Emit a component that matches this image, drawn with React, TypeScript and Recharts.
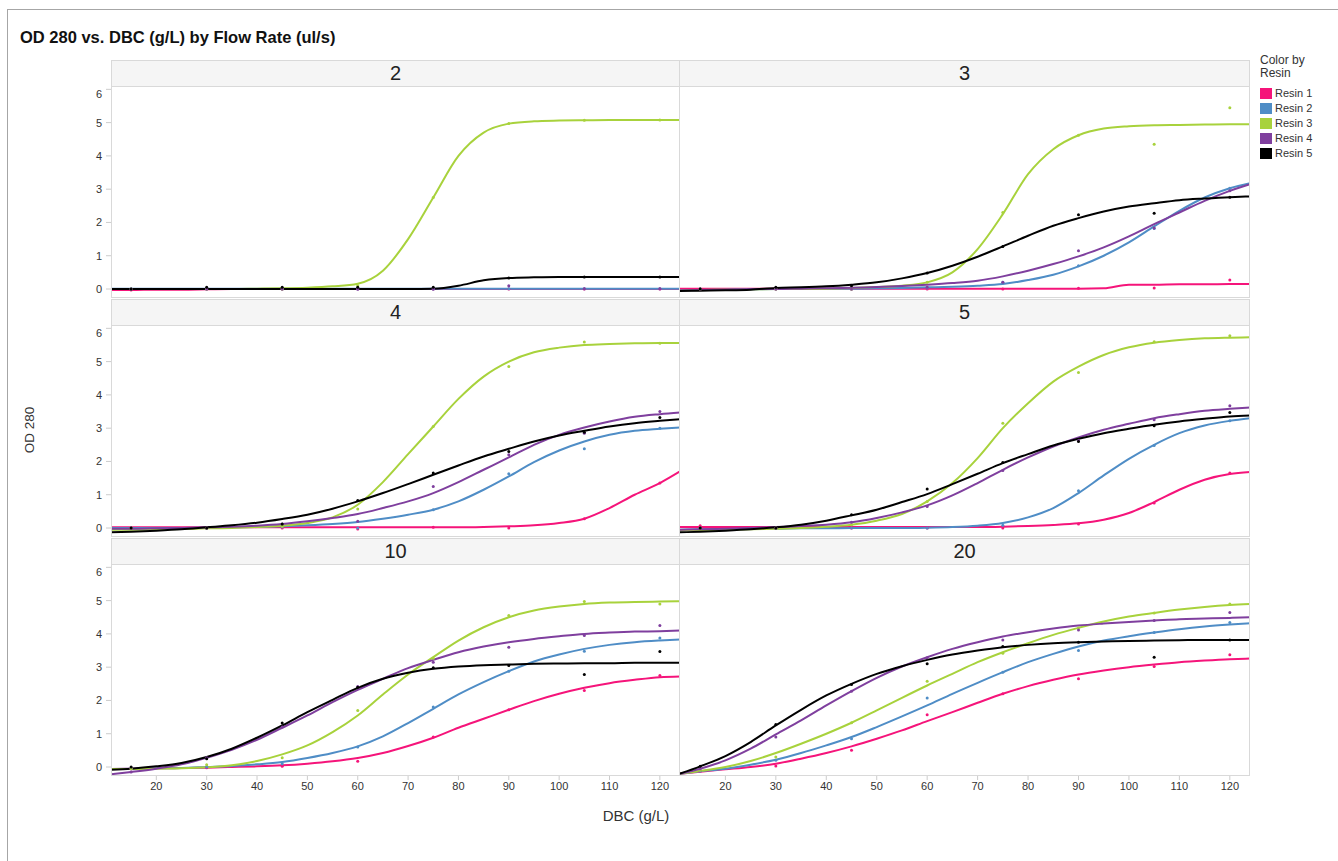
import { ComposedChart, Line, Scatter, XAxis, YAxis } from "recharts";

const RESINS = ["Resin 1", "Resin 2", "Resin 3", "Resin 4", "Resin 5"];
const COLORS = ["#f5147a", "#4f8dc6", "#a8d23c", "#7f3f9e", "#000000"];
const FLOW_RATES = ["2", "3", "4", "5", "10", "20"];

const FIT_X = [11, 15, 20, 25, 30, 35, 40, 45, 50, 55, 60, 65, 70, 75, 80, 85, 90, 95, 100, 105, 110, 115, 120, 124];
// measured DBC values
const SAMPLE_X = [15, 30, 45, 60, 75, 90, 105, 120];
const X_TICKS = [20, 30, 40, 50, 60, 70, 80, 90, 100, 110, 120];
const Y_TICKS = [0, 1, 2, 3, 4, 5, 6];

// fitted curves, one array per resin (null = no fit drawn)
const FIT_2 = [
  [-0.03, -0.03, -0.02, -0.02, -0.01, 0, 0, 0, 0, 0, 0, 0, 0, 0, 0, 0, 0, 0, 0, 0, 0, 0, 0, 0],
  [0.01, 0.01, 0.01, 0.01, 0.01, 0.01, 0.01, 0.01, 0.01, 0.01, 0.01, 0.01, 0.01, 0.01, 0.01, 0.01, 0.01, 0.01, 0.01, 0.01, 0.01, 0.01, 0.01, 0.01],
  [0, 0, 0, 0, 0, 0, 0.01, 0.02, 0.04, 0.08, 0.16, 0.55, 1.5, 2.75, 4.0, 4.7, 4.97, 5.04, 5.06, 5.07, 5.08, 5.08, 5.08, 5.08],
  null,
  [0, 0, 0, 0, 0, 0, 0, 0, 0, 0, 0, 0, 0, 0.01, 0.1, 0.26, 0.33, 0.35, 0.36, 0.36, 0.36, 0.36, 0.36, 0.36],
];
const FIT_3 = [
  [0.01, 0.01, 0.01, 0.01, 0.01, 0.01, 0.01, 0.01, 0.01, 0.01, 0.01, 0.01, 0.01, 0.01, 0.01, 0.01, 0.01, 0.02, 0.13, 0.13, 0.14, 0.14, 0.15, 0.15],
  [-0.04, -0.03, -0.02, -0.01, 0, 0, 0.01, 0.01, 0.02, 0.03, 0.05, 0.07, 0.1, 0.15, 0.27, 0.43, 0.68, 1.0, 1.4, 1.88, 2.35, 2.75, 3.03, 3.18],
  [-0.04, -0.03, -0.02, -0.01, 0, 0, 0.01, 0.03, 0.06, 0.1, 0.2, 0.5, 1.2, 2.25, 3.45, 4.2, 4.62, 4.82, 4.89, 4.92, 4.93, 4.94, 4.95, 4.95],
  [-0.04, -0.03, -0.02, 0, 0, 0.01, 0.02, 0.04, 0.06, 0.09, 0.13, 0.18, 0.25, 0.38, 0.55, 0.75, 0.98, 1.25, 1.58, 1.95, 2.3, 2.65, 2.95, 3.15],
  [-0.06, -0.05, -0.04, -0.02, 0.03, 0.05, 0.08, 0.13, 0.2, 0.32, 0.48, 0.7, 0.97, 1.28, 1.6, 1.9, 2.13, 2.33, 2.48, 2.58, 2.67, 2.72, 2.76, 2.78],
];
const FIT_4 = [
  [0.02, 0.02, 0.02, 0.02, 0.02, 0.02, 0.02, 0.02, 0.02, 0.02, 0.02, 0.02, 0.02, 0.02, 0.02, 0.03, 0.05, 0.08, 0.15, 0.28, 0.6, 1.0, 1.35, 1.7],
  [0, 0, 0, 0, 0.01, 0.02, 0.03, 0.05, 0.08, 0.12, 0.18, 0.28, 0.4, 0.55, 0.8, 1.15, 1.55, 1.98, 2.33, 2.6, 2.8, 2.92, 2.98, 3.02],
  [-0.05, -0.05, -0.04, -0.03, -0.01, 0, 0.03, 0.07, 0.15, 0.32, 0.7, 1.38, 2.22, 3.05, 3.88, 4.55, 5.0, 5.28, 5.42, 5.5, 5.53, 5.55, 5.56, 5.56],
  [-0.02, -0.02, -0.01, 0, 0.02, 0.04, 0.07, 0.12, 0.2, 0.3, 0.42, 0.6, 0.8, 1.05, 1.38, 1.75, 2.12, 2.5, 2.8, 3.02, 3.2, 3.34, 3.42, 3.47],
  [-0.13, -0.11, -0.08, -0.04, 0.02, 0.08, 0.16, 0.27, 0.4, 0.58, 0.8, 1.05, 1.32, 1.6, 1.88, 2.15, 2.38, 2.6, 2.78, 2.92, 3.05, 3.15, 3.22, 3.27],
];
const FIT_5 = [
  [0.03, 0.03, 0.03, 0.03, 0.03, 0.03, 0.03, 0.03, 0.03, 0.03, 0.03, 0.03, 0.03, 0.04, 0.06, 0.09, 0.14, 0.25, 0.45, 0.78, 1.15, 1.45, 1.62, 1.68],
  [-0.05, -0.04, -0.03, -0.02, -0.02, -0.01, -0.01, 0, 0, 0, 0.01, 0.03, 0.07, 0.15, 0.32, 0.6, 1.05, 1.58, 2.08, 2.5, 2.85, 3.08, 3.22, 3.3],
  [-0.07, -0.06, -0.05, -0.04, -0.02, 0, 0.04, 0.1, 0.22, 0.42, 0.8, 1.35, 2.1, 3.0, 3.75, 4.4, 4.85, 5.2, 5.43, 5.57, 5.65, 5.7, 5.72, 5.73],
  [-0.05, -0.04, -0.02, 0, 0.03, 0.06, 0.1, 0.17, 0.3, 0.47, 0.68, 0.98, 1.35, 1.75, 2.12, 2.45, 2.72, 2.95, 3.13, 3.3, 3.42, 3.52, 3.58, 3.62],
  [-0.13, -0.11, -0.08, -0.04, 0.02, 0.1, 0.22, 0.38, 0.55, 0.78, 1.02, 1.32, 1.63, 1.95, 2.22, 2.48, 2.68, 2.85, 2.98, 3.1, 3.2, 3.28, 3.35, 3.38],
];
const FIT_10 = [
  [-0.06, -0.05, -0.04, -0.03, -0.02, 0, 0.02, 0.05, 0.1, 0.17, 0.27, 0.42, 0.63, 0.88, 1.18, 1.45, 1.72, 1.98, 2.2, 2.38, 2.52, 2.62, 2.7, 2.72],
  [-0.06, -0.05, -0.04, -0.03, 0, 0.03, 0.08, 0.15, 0.27, 0.42, 0.62, 0.92, 1.32, 1.75, 2.18, 2.55, 2.88, 3.17, 3.38, 3.55, 3.67, 3.75, 3.8, 3.83],
  [-0.06, -0.06, -0.05, -0.04, -0.01, 0.05, 0.18, 0.38, 0.65, 1.05, 1.55, 2.18, 2.78, 3.3, 3.8, 4.2, 4.5, 4.7, 4.82, 4.9, 4.94, 4.96, 4.97, 4.98],
  [-0.22, -0.15, -0.05, 0.08, 0.28, 0.52, 0.82, 1.18, 1.55, 1.95, 2.32, 2.65, 2.97, 3.22, 3.45, 3.62, 3.75, 3.85, 3.93, 4.0, 4.04, 4.07, 4.08, 4.1],
  [-0.08, -0.05, 0.02, 0.12, 0.3, 0.55, 0.88, 1.25, 1.65, 2.02, 2.38, 2.65, 2.83, 2.95, 3.02, 3.06, 3.08, 3.1, 3.11, 3.12, 3.12, 3.13, 3.13, 3.13],
];
const FIT_20 = [
  [-0.2, -0.14, -0.07, 0, 0.1, 0.25, 0.42, 0.62, 0.85, 1.1, 1.38, 1.65, 1.93, 2.2, 2.43, 2.62, 2.78, 2.9, 3.0, 3.08, 3.15, 3.2, 3.24, 3.26],
  [-0.2, -0.13, -0.05, 0.07, 0.22, 0.42, 0.65, 0.9, 1.2, 1.52, 1.85, 2.2, 2.53, 2.85, 3.15, 3.4, 3.62, 3.8, 3.93, 4.04, 4.14, 4.22, 4.28, 4.32],
  [-0.2, -0.12, 0, 0.18, 0.42, 0.7, 1.0, 1.33, 1.7, 2.08, 2.45, 2.8, 3.15, 3.45, 3.72, 3.97, 4.18, 4.37, 4.52, 4.63, 4.73, 4.81, 4.87, 4.9],
  [-0.2, -0.05, 0.2, 0.55, 0.98, 1.4, 1.85, 2.28, 2.68, 3.02, 3.3, 3.55, 3.75, 3.92, 4.05, 4.16, 4.25, 4.31, 4.36, 4.4, 4.44, 4.46, 4.48, 4.5],
  [-0.2, 0.02, 0.33, 0.75, 1.25, 1.72, 2.15, 2.5, 2.8, 3.03, 3.22, 3.38, 3.5, 3.6, 3.67, 3.72, 3.75, 3.77, 3.79, 3.8, 3.81, 3.82, 3.82, 3.82],
];

// measured points at SAMPLE_X, one array per resin
const DOTS_2 = [
  [-0.03, 0, 0, 0, 0, 0, 0, 0],
  [0, 0, 0, 0, 0, 0.01, 0.01, 0.01],
  [0, 0, 0, 0.1, 2.75, 4.97, 5.07, 5.08],
  [0, 0, 0, 0, 0, 0.1, 0.01, 0.01],
  [0, 0.05, 0.05, 0.05, 0.05, 0.33, 0.36, 0.36],
];
const DOTS_3 = [
  [0, 0, 0, 0, 0, 0.02, 0.03, 0.27],
  [0, 0, 0, 0.03, 0.2, 0.7, 1.82, 3.03],
  [0, 0, 0, 0.2, 2.3, 4.62, 4.35, 5.45],
  [0, 0, 0, 0.05, 0.2, 1.15, 1.83, 2.95],
  [0, 0.05, 0.1, 0.48, 1.28, 2.23, 2.28, 2.76],
];
const DOTS_4 = [
  [0, 0, 0, -0.03, 0.02, 0, 0.28, 1.35],
  [0, 0, 0.03, 0, 0.55, 1.63, 2.38, 3.0],
  [0, 0, 0.05, 0.57, 3.05, 4.85, 5.59, 5.55],
  [0, 0, 0.12, 0.2, 1.25, 2.2, 2.85, 3.5],
  [0, 0, 0.12, 0.83, 1.65, 2.3, 2.88, 3.32],
];
const DOTS_5 = [
  [0.07, 0, 0, 0, 0, 0.12, 0.75, 1.65],
  [0, 0, 0, 0, 0.08, 1.12, 2.48, 3.22],
  [0, 0, 0.1, 0.8, 3.15, 4.67, 5.6, 5.78],
  [0, 0, 0.17, 0.65, 1.73, 2.63, 3.25, 3.67],
  [0, 0, 0.4, 1.17, 1.97, 2.6, 3.07, 3.47],
];
const DOTS_10 = [
  [-0.05, -0.02, 0.02, 0.17, 0.9, 1.72, 2.3, 2.75],
  [-0.05, 0, 0.1, 0.6, 1.8, 2.88, 3.48, 3.88],
  [-0.05, 0.07, 0.28, 1.7, 3.27, 4.55, 4.97, 4.9],
  [-0.15, 0.28, 1.2, 2.42, 3.15, 3.6, 3.95, 4.25],
  [0, 0.25, 1.32, 2.4, 2.98, 3.05, 2.78, 3.47],
];
const DOTS_20 = [
  [-0.12, 0.03, 0.5, 1.57, 2.2, 2.65, 3.02, 3.37],
  [-0.12, 0.2, 0.85, 2.07, 2.85, 3.5, 4.04, 4.34],
  [-0.1, 0.3, 1.33, 2.58, 3.42, 4.18, 4.63, 4.9],
  [-0.05, 0.9, 2.28, 3.28, 3.82, 4.12, 4.4, 4.64],
  [0.02, 1.28, 2.48, 3.1, 3.62, 3.75, 3.3, 3.82],
];

const FITS = [FIT_2, FIT_3, FIT_4, FIT_5, FIT_10, FIT_20];
const DOTS = [DOTS_2, DOTS_3, DOTS_4, DOTS_5, DOTS_10, DOTS_20];

// layout
const COL_LEFT = [111, 680];
const COL_W = [569, 570];
const PLOT_TOP = [87, 326, 565];
const HEADER_H = 27;
const PLOT_H = 211;
const Y_AXIS_W = 30;
const X_AXIS_H = 28;
const FONT = "'Liberation Sans', Arial, sans-serif";
const GRID = "#d9d9d9";

function YTick({ x, y, payload }: any) {
  // top label is nudged down so it stays inside the panel
  const dy = payload.value === 6 ? 5 : 0;
  return (
    <text x={x} y={y + dy} dy={4} textAnchor="end" fontSize={11} fill="#333">
      {payload.value}
    </text>
  );
}

function Panel({ idx }: { idx: number }) {
  const col = idx % 2;
  const row = Math.floor(idx / 2);
  const showY = col === 0;
  const showX = row === 2;
  const fits = FITS[idx];
  const dots = DOTS[idx];

  const rows = FIT_X.map((x, i) => {
    const r: any = { x };
    fits.forEach((f, k) => {
      if (f) r["r" + k] = f[i];
    });
    return r;
  });

  const left = COL_LEFT[col] - (showY ? Y_AXIS_W : 0);
  const width = COL_W[col] + (showY ? Y_AXIS_W : 0);
  const height = PLOT_H + (showX ? X_AXIS_H : 0);

  return (
    <>
      <div
        style={{
          position: "absolute",
          left: COL_LEFT[col],
          top: PLOT_TOP[row] - HEADER_H,
          width: COL_W[col],
          height: HEADER_H,
          boxSizing: "border-box",
          background: "#f5f5f5",
          borderTop: `1px solid ${GRID}`,
          borderBottom: `1px solid ${GRID}`,
          borderLeft: col === 0 ? `1px solid ${GRID}` : "none",
          borderRight: `1px solid ${GRID}`,
          textAlign: "center",
          fontSize: 20,
          lineHeight: `${HEADER_H - 2}px`,
          color: "#222",
        }}
      >
        {FLOW_RATES[idx]}
      </div>
      <div style={{ position: "absolute", left, top: PLOT_TOP[row] }}>
        <ComposedChart width={width} height={height} data={rows} margin={{ top: 0, right: 0, bottom: 0, left: 0 }}>
          <XAxis
            dataKey="x"
            type="number"
            domain={[11, 124]}
            allowDataOverflow
            ticks={X_TICKS}
            interval={0}
            hide={!showX}
            height={X_AXIS_H}
            axisLine={false}
            tickLine={{ stroke: "#cccccc" }}
            tickSize={4}
            tickMargin={2}
            tick={{ fontSize: 11, fill: "#333" }}
          />
          <YAxis
            type="number"
            domain={[-0.27, 6.07]}
            allowDataOverflow
            ticks={Y_TICKS}
            interval={0}
            hide={!showY}
            width={Y_AXIS_W}
            axisLine={false}
            tickLine={{ stroke: "#cccccc" }}
            tickSize={5}
            tickMargin={4}
            tick={<YTick />}
          />
          {fits.map((f, k) =>
            f ? (
              <Line
                key={"l" + k}
                type="monotone"
                dataKey={"r" + k}
                stroke={COLORS[k]}
                strokeWidth={2}
                dot={false}
                activeDot={false}
                isAnimationActive={false}
              />
            ) : null
          )}
          {dots.map((d, k) => (
            <Scatter
              key={"s" + k}
              data={SAMPLE_X.map((x, i) => ({ x, y: d[i] }))}
              dataKey="y"
              fill={COLORS[k]}
              isAnimationActive={false}
              shape={(p: any) => <circle cx={p.cx} cy={p.cy} r={1.5} fill={COLORS[k]} />}
            />
          ))}
        </ComposedChart>
      </div>
      <div
        style={{
          position: "absolute",
          left: COL_LEFT[col],
          top: PLOT_TOP[row],
          width: COL_W[col],
          height: PLOT_H,
          boxSizing: "border-box",
          borderLeft: col === 0 ? `1px solid ${GRID}` : "none",
          borderRight: `1px solid ${GRID}`,
          borderBottom: `1px solid ${GRID}`,
          pointerEvents: "none",
        }}
      />
    </>
  );
}

export default function App() {
  return (
    <div
      style={{
        position: "absolute",
        left: 0,
        top: 0,
        width: 1338,
        height: 861,
        overflow: "hidden",
        background: "#fff",
        fontFamily: FONT,
      }}
    >
      <div
        style={{
          position: "absolute",
          left: 7,
          top: 9,
          width: 1400,
          height: 900,
          border: "1px solid #a6a6a6",
        }}
      />
      <div style={{ position: "absolute", left: 20, top: 28, fontSize: 16.5, fontWeight: "bold", color: "#111" }}>
        OD 280 vs. DBC (g/L) by Flow Rate (ul/s)
      </div>

      {FLOW_RATES.map((_, i) => (
        <Panel key={i} idx={i} />
      ))}

      <div
        style={{
          position: "absolute",
          left: 29,
          top: 430,
          transform: "translate(-50%, -50%) rotate(-90deg)",
          fontSize: 13.5,
          color: "#333",
          whiteSpace: "nowrap",
        }}
      >
        OD 280
      </div>
      <div
        style={{
          position: "absolute",
          left: 636,
          top: 815,
          transform: "translate(-50%, -50%)",
          fontSize: 15,
          color: "#333",
          whiteSpace: "nowrap",
        }}
      >
        DBC (g/L)
      </div>

      <div style={{ position: "absolute", left: 1260, top: 54, fontSize: 11, color: "#333", lineHeight: "13px" }}>
        <div style={{ fontSize: 12 }}>Color by</div>
        <div style={{ fontSize: 12 }}>Resin</div>
        <div style={{ marginTop: 6 }}>
          {RESINS.map((r, i) => (
            <div key={r} style={{ display: "flex", alignItems: "center", height: 15 }}>
              <span style={{ display: "inline-block", width: 12, height: 11, background: COLORS[i], marginRight: 3 }} />
              <span>{r}</span>
            </div>
          ))}
        </div>
      </div>
    </div>
  );
}
